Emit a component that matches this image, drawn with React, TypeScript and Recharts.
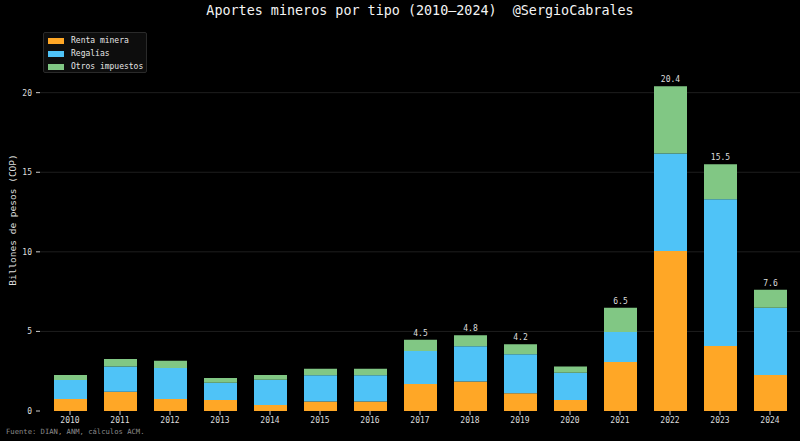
import { BarChart, Bar, XAxis, YAxis, CartesianGrid, LabelList } from 'recharts'

const YEARS = ['2010', '2011', '2012', '2013', '2014', '2015', '2016', '2017', '2018', '2019', '2020', '2021', '2022', '2023', '2024']
const RENTA = [0.75, 1.21, 0.75, 0.69, 0.38, 0.59, 0.59, 1.7, 1.85, 1.11, 0.69, 3.08, 10.06, 4.09, 2.26]
const REGALIAS = [1.2, 1.58, 1.95, 1.09, 1.59, 1.65, 1.65, 2.07, 2.22, 2.45, 1.72, 1.89, 6.12, 9.21, 4.22]
const OTROS = [0.31, 0.48, 0.46, 0.3, 0.29, 0.42, 0.42, 0.7, 0.69, 0.63, 0.38, 1.51, 4.22, 2.2, 1.13]
const TOTAL_LABELS = ['', '', '', '', '', '', '', '4.5', '4.8', '4.2', '', '6.5', '20.4', '15.5', '7.6']
const Y_TICKS = [0, 5, 10, 15, 20]

const COLORS = {
  renta: '#FFA726',
  regalias: '#4FC3F7',
  otros: '#81C784',
}

const MONO = '"DejaVu Sans Mono", monospace'

const data = YEARS.map((year, i) => ({
  year,
  renta: RENTA[i],
  regalias: REGALIAS[i],
  otros: OTROS[i],
  label: TOTAL_LABELS[i],
}))

const legendItems = [
  { name: 'Renta minera', color: COLORS.renta },
  { name: 'Regalías', color: COLORS.regalias },
  { name: 'Otros impuestos', color: COLORS.otros },
]

export default function App() {
  return (
    <div
      style={{
        position: 'absolute',
        left: 0,
        top: 0,
        width: 800,
        height: 441,
        background: '#000',
        fontFamily: MONO,
        overflow: 'hidden',
      }}
    >
      <div
        style={{
          position: 'absolute',
          left: 40,
          width: 760,
          top: 3,
          textAlign: 'center',
          color: '#f4f4f4',
          fontSize: 13.4,
          whiteSpace: 'pre',
        }}
      >
        {'Aportes mineros por tipo (2010–2024)  @SergioCabrales'}
      </div>

      <BarChart
        width={800}
        height={441}
        data={data}
        margin={{ top: 29, right: 0, bottom: 0, left: 0 }}
        barSize={33}
      >
        <CartesianGrid vertical={false} horizontalValues={[5, 10, 15, 20]} stroke="#262626" strokeWidth={0.8} />
        <XAxis
          dataKey="year"
          height={30}
          padding={{ left: 5, right: 5 }}
          axisLine={false}
          tickLine={{ stroke: '#cccccc' }}
          tickSize={4}
          tickMargin={2}
          tick={{ fill: '#dddddd', fontSize: 8, fontFamily: MONO }}
          interval={0}
        />
        <YAxis
          width={40}
          domain={[0, 24]}
          ticks={Y_TICKS}
          axisLine={false}
          tickLine={{ stroke: '#cccccc' }}
          tickSize={4}
          tickMargin={4}
          tick={{ fill: '#dddddd', fontSize: 8, fontFamily: MONO }}
          label={{
            value: 'Billones de pesos (COP)',
            angle: -90,
            position: 'insideLeft',
            offset: 0,
            dx: 13,
            textAnchor: 'middle',
            fill: '#dddddd',
            fontSize: 9.5,
            fontFamily: MONO,
          }}
        />
        <Bar dataKey="renta" stackId="a" fill={COLORS.renta} isAnimationActive={false} />
        <Bar dataKey="regalias" stackId="a" fill={COLORS.regalias} isAnimationActive={false} />
        <Bar dataKey="otros" stackId="a" fill={COLORS.otros} isAnimationActive={false}>
          <LabelList
            dataKey="label"
            position="top"
            offset={4}
            fill="#dddddd"
            fontSize={8}
            fontFamily={MONO}
          />
        </Bar>
      </BarChart>

      <div
        style={{
          position: 'absolute',
          left: 43,
          top: 32,
          width: 104,
          height: 41,
          background: '#0d0d0d',
          border: '1px solid #2a2a2a',
          borderRadius: 2,
          padding: '1px 0 0 4px',
          boxSizing: 'border-box',
        }}
      >
        {legendItems.map((item) => (
          <div key={item.name} style={{ display: 'flex', alignItems: 'center', height: 13 }}>
            <span style={{ display: 'inline-block', width: 16, height: 6, background: item.color, marginRight: 7 }} />
            <span style={{ color: '#e6e6e6', fontSize: 8, lineHeight: '13px' }}>{item.name}</span>
          </div>
        ))}
      </div>

      <div
        style={{
          position: 'absolute',
          left: 6,
          top: 427,
          color: '#8a8a8a',
          fontSize: 7.2,
          whiteSpace: 'pre',
        }}
      >
        Fuente: DIAN, ANM, cálculos ACM.
      </div>
    </div>
  )
}
